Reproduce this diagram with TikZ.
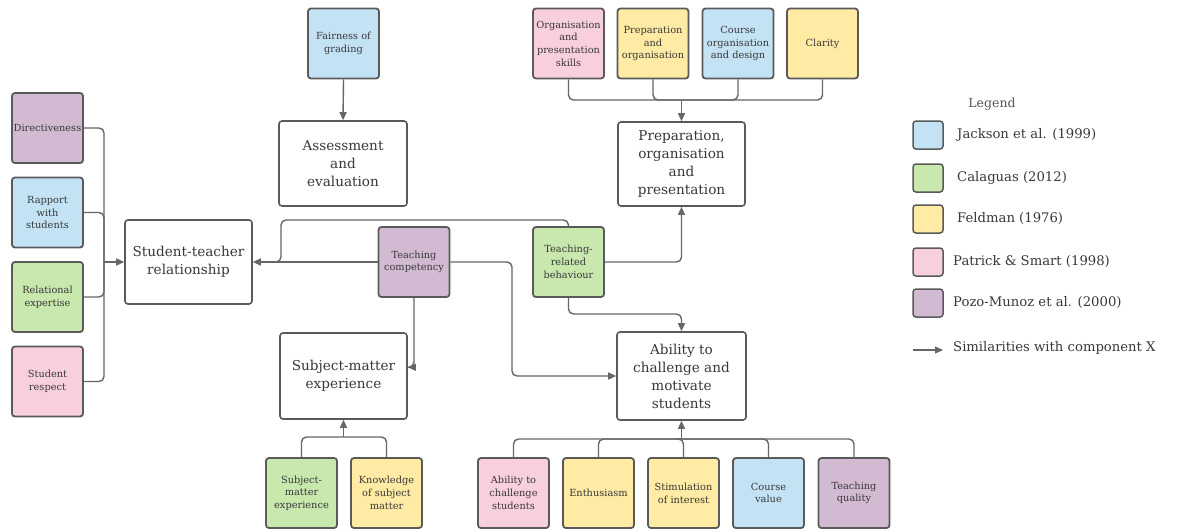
\documentclass[tikz,border=0pt]{standalone}
\usepackage{fontspec}
\setmainfont{DejaVu Serif}
\usetikzlibrary{arrows.meta,calc}
\definecolor{cblue}{HTML}{C3E3F5}
\definecolor{cgreen}{HTML}{C8E8AE}
\definecolor{cyellow}{HTML}{FFEBA3}
\definecolor{cpink}{HTML}{F8D0DC}
\definecolor{cpurple}{HTML}{D2BBD2}
\definecolor{bord}{HTML}{5A5A5A}
\definecolor{lnk}{HTML}{666666}
\definecolor{txt}{HTML}{383838}
\begin{document}
\begin{tikzpicture}[x=1pt,y=-1pt,
 sbox/.style={draw=bord, line width=1.8pt, rounded corners=3pt, minimum width=71pt, minimum height=70pt, inner sep=0pt, align=center, font=\fontsize{9.8}{12.7}\selectfont, text=txt},
 bbox/.style={draw=bord, line width=1.6pt, rounded corners=3pt, fill=white, inner sep=0pt, align=center, font=\fontsize{13.6}{18}\selectfont, text=txt},
 conn/.style={draw=lnk, line width=1.4pt, rounded corners=5pt},
 arr/.style={conn, -{Triangle[length=8pt,width=7pt]}},
 swatch/.style={draw=bord, line width=1.5pt, rounded corners=3pt, minimum width=30pt, minimum height=28pt, inner sep=0pt},
 legtxt/.style={anchor=west, font=\fontsize{13.2}{15}\selectfont, text=txt, inner sep=0pt}
]
\useasboundingbox (0,0) rectangle (1184,531);
\fill[white] (0,0) rectangle (1184,531);

% big boxes
\node[bbox, minimum width=127pt, minimum height=84pt] (str) at (188.5,262) {Student-teacher\\relationship};
\node[bbox, minimum width=128pt, minimum height=85pt] (ae) at (343,163.5) {Assessment\\and\\evaluation};
\node[bbox, minimum width=127pt, minimum height=84pt] (pop) at (681.5,164) {Preparation,\\organisation\\and\\presentation};
\node[bbox, minimum width=127pt, minimum height=86pt] (sme) at (343.5,376) {Subject-matter\\experience};
\node[bbox, minimum width=129pt, minimum height=88pt] (abl) at (681.5,376) {Ability to\\challenge and\\motivate\\students};

% left small boxes
\node[sbox, fill=cpurple] (dir) at (47.5,128) {Directiveness};
\node[sbox, fill=cblue] (rap) at (47.5,212.5) {Rapport\\with\\students};
\node[sbox, fill=cgreen] (rel) at (47.5,297) {Relational\\expertise};
\node[sbox, fill=cpink] (resp) at (47.5,381.5) {Student\\respect};

% top boxes
\node[sbox, fill=cblue] (fair) at (343.5,43.5) {Fairness of\\grading};
\node[sbox, fill=cpink] (ops) at (568.5,43.5) {Organisation\\and\\presentation\\skills};
\node[sbox, fill=cyellow] (pao) at (653,43.5) {Preparation\\and\\organisation};
\node[sbox, fill=cblue] (cod) at (738,43.5) {Course\\organisation\\and design};
\node[sbox, fill=cyellow] (cla) at (822.5,43.5) {Clarity};

% middle boxes
\node[sbox, fill=cpurple] (tc) at (414,262) {Teaching\\competency};
\node[sbox, fill=cgreen] (trb) at (568.5,262) {Teaching-\\related\\behaviour};

% bottom boxes
\node[sbox, fill=cgreen] (smes) at (301.5,493) {Subject-\\matter\\experience};
\node[sbox, fill=cyellow] (ksm) at (386.5,493) {Knowledge\\of subject\\matter};
\node[sbox, fill=cpink] (atc) at (513.5,493) {Ability to\\challenge\\students};
\node[sbox, fill=cyellow] (ent) at (598.5,493) {Enthusiasm};
\node[sbox, fill=cyellow] (sti) at (683.5,493) {Stimulation\\of interest};
\node[sbox, fill=cblue] (cv) at (768.5,493) {Course\\value};
\node[sbox, fill=cpurple] (tq) at (854,493) {Teaching\\quality};

% junction coordinates
\coordinate (jl) at (104,262);
\coordinate (jp) at (681.5,100);
\coordinate (jt) at (281,220);
\coordinate (k1) at (681.5,314);
\coordinate (k3) at (512,262);
\coordinate (k4) at (343.5,437);
\coordinate (k5) at (681.5,439);

% left group
\draw[conn] (dir.east) -| (jl);
\draw[conn] (rap.east) -| (jl);
\draw[conn] (rel.east) -| (jl);
\draw[conn] (resp.east) -| (jl);
\draw[arr] (jl) -- (str.west);

% fairness
\draw[arr] (fair.south) -- (ae.north);

% top right group
\draw[conn] (ops.south) |- (jp);
\draw[conn] (pao.south) |- (jp);
\draw[conn] (cod.south) |- (jp);
\draw[conn] (cla.south) |- (jp);
\draw[arr] (jp) -- (pop.north);

% teaching competency
\draw[arr] (tc.west) -- (str.east);
\draw[arr] (tc.south) |- ($(sme.north east)!0.4!(sme.south east)$);
\draw[arr] (tc.east) -- (k3) |- (abl.west);

% teaching-related behaviour
\draw[conn] (trb.north) |- (jt) |- ($(jt)+(-14,42)$);
\draw[arr] (trb.east) -| (pop.south);
\draw[arr] (trb.south) |- (k1) -- (abl.north);

% bottom groups
\draw[conn] (smes.north) |- (k4);
\draw[conn] (ksm.north) |- (k4);
\draw[arr] (k4) -- (sme.south);
\draw[conn] (atc.north) |- (k5);
\draw[conn] (ent.north) |- (k5);
\draw[conn] (sti.north) |- (k5);
\draw[conn] (cv.north) |- (k5);
\draw[conn] (tq.north) |- (k5);
\draw[arr] (k5) -- (abl.south);

% legend
\node[font=\fontsize{12.5}{14}\selectfont, text=txt!85] (lt) at (992,104) {Legend};
\node[swatch, fill=cblue] (s1) at (928,135) {};
\node[swatch, fill=cgreen] (s2) at (928,178) {};
\node[swatch, fill=cyellow] (s3) at (928,219) {};
\node[swatch, fill=cpink] (s4) at (928,262) {};
\node[swatch, fill=cpurple] (s5) at (928,303) {};
\node[legtxt] (l1) at (957,135) {Jackson et al. (1999)};
\node[legtxt] (l2) at (957,178) {Calaguas (2012)};
\node[legtxt] (l3) at (957,219) {Feldman (1976)};
\node[legtxt] (l4) at (953,262) {Patrick \& Smart (1998)};
\node[legtxt] (l5) at (953,303) {Pozo-Munoz et al. (2000)};
\coordinate (a1) at (913,350);
\node[legtxt] (l6) at (953,348) {Similarities with component X};
\draw[arr, line width=1.1pt] (a1) -- ++(30,0);
\end{tikzpicture}
\end{document}
